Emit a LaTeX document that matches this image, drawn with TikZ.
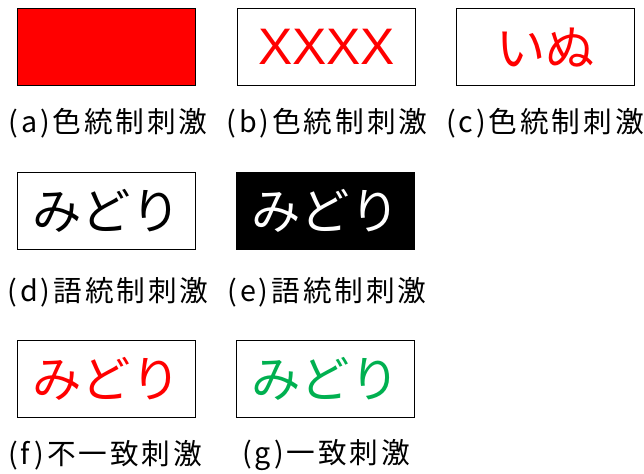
\documentclass[tikz,border=0pt]{standalone}
\usepackage{fontspec}
\setmainfont{Noto Sans CJK JP}
\newfontfamily\latinfont{Liberation Sans}
\definecolor{pptred}{RGB}{255,0,0}
\definecolor{pptgreen}{RGB}{0,176,80}
\begin{document}
\begin{tikzpicture}[x=0.75pt,y=-0.75pt,
  stim/.style={draw=black,line width=0.9pt,minimum width=133.5pt,minimum height=57.75pt,inner sep=0pt,anchor=north west,font=\fontsize{37}{40}\selectfont},
  lbl/.style={font=\fontsize{21.5}{24}\selectfont\addfontfeature{LetterSpace=10},inner sep=0pt}]
\useasboundingbox (0,0) rectangle (644,474);
% row 1
\node[stim,fill=pptred] (a) at (17,8) {};
\node[stim,text=pptred,font=\fontsize{38.5}{40}\latinfont] (b) at (237,8) {XXXX};
\node[stim,text=pptred] (c) at (456,8) {いぬ};
\node[lbl] (la) at (108,123) {(a)色統制刺激};
\node[lbl] (lb) at (327,123) {(b)色統制刺激};
\node[lbl] (lc) at (545,123) {(c)色統制刺激};
% row 2
\node[stim] (d) at (17,172) {みどり};
\node[stim,fill=black,text=white] (e) at (236,172) {みどり};
\node[lbl] (ld) at (108,292) {(d)語統制刺激};
\node[lbl] (le) at (327,292) {(e)語統制刺激};
% row 3
\node[stim,text=pptred] (f) at (17,340) {みどり};
\node[stim,text=pptgreen] (g) at (236,340) {みどり};
\node[lbl] (lf) at (105,455) {(f)不一致刺激};
\node[lbl] (lg) at (326,455) {(g)一致刺激};
\end{tikzpicture}
\end{document}
